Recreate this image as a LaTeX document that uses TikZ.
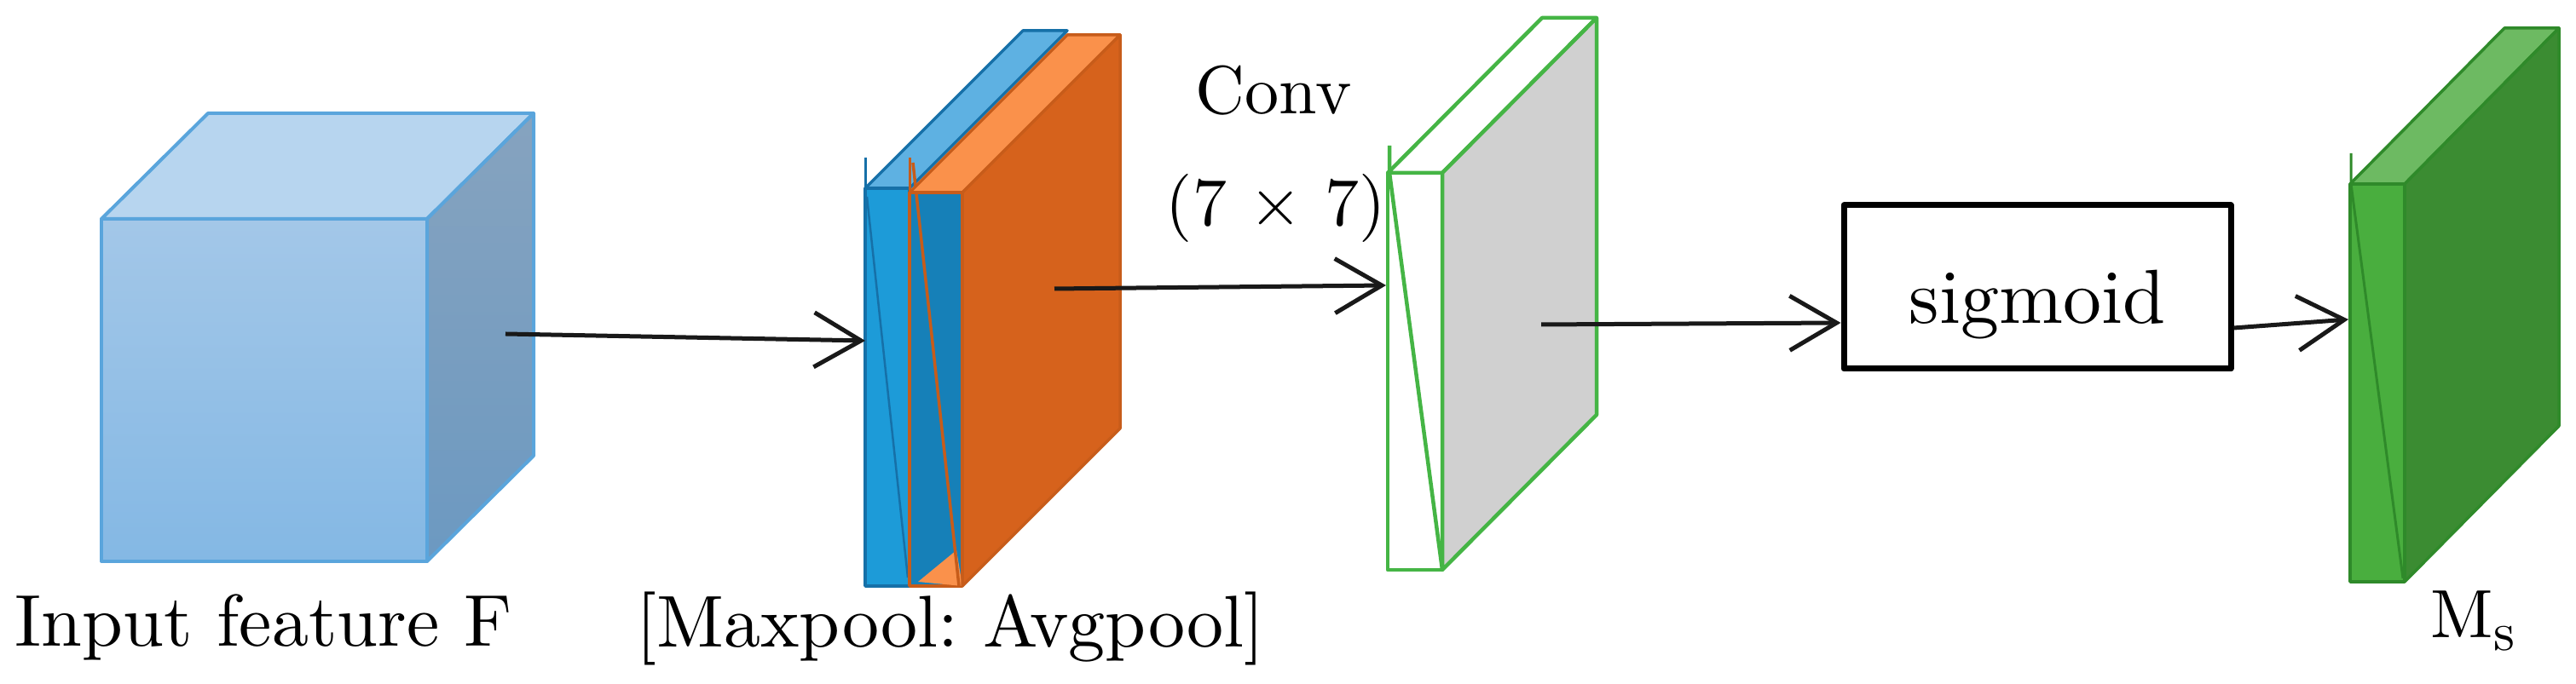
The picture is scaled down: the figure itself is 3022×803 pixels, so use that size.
\documentclass[tikz,border=0pt]{standalone}
\usepackage{fontspec}
\setmainfont{lmroman10-regular.otf}
\usetikzlibrary{arrows.meta}
\definecolor{cubeedge}{HTML}{5AA5DC}
\definecolor{cubefrontA}{HTML}{A3C7E8}
\definecolor{cubefrontB}{HTML}{84B8E4}
\definecolor{cubetop}{HTML}{B7D5EF}
\definecolor{cubesideA}{HTML}{86A3BF}
\definecolor{cubesideB}{HTML}{6C99C1}
\definecolor{maxfront}{HTML}{1D9BD8}
\definecolor{maxtop}{HTML}{5EB1E2}
\definecolor{maxedge}{HTML}{1670A8}
\definecolor{avgfront}{HTML}{1680B8}
\definecolor{avgtop}{HTML}{FA914B}
\definecolor{avgside}{HTML}{D6621C}
\definecolor{avgedge}{HTML}{C75C1A}
\definecolor{convedge}{HTML}{45B545}
\definecolor{convside}{HTML}{D0D0D0}
\definecolor{msfront}{HTML}{49AE3E}
\definecolor{mstop}{HTML}{6DBA62}
\definecolor{msside}{HTML}{3B8C32}
\definecolor{msedge}{HTML}{2F8A2A}

\begin{document}
\begin{tikzpicture}[x=0.1mm, y=-0.1mm, line join=round,
  lab/.style={anchor=base, font={\fontsize{24.5}{29}\selectfont}},
  smalllab/.style={anchor=base, font={\fontsize{22.8}{27}\selectfont}},
  arr/.style={line width=0.5mm, black!90, -{Straight Barb[length=5.5mm, width=6.4mm]}}]
\useasboundingbox (0,0) rectangle (3022,803);
\draw[cubeedge, line width=0.4mm, top color=cubefrontA, bottom color=cubefrontB] (119,257) rectangle (501,659);
\draw[cubeedge, line width=0.4mm, fill=cubetop] (119,257) -- (244,133) -- (626,133) -- (501,257) -- cycle;
\draw[cubeedge, line width=0.4mm, top color=cubesideA, bottom color=cubesideB] (501,257) -- (626,133) -- (626,535) -- (501,659) -- cycle;
\draw[maxedge, line width=0.35mm, fill=maxtop] (1015,221) -- (1200,36) -- (1252,36) -- (1067,221) -- cycle;
\draw[maxedge, line width=0.35mm, fill=maxfront] (1015,221) rectangle (1067,688);
\draw[maxedge, line width=0.25mm] (1017,231) -- (1065,678);
\draw[maxedge, line width=0.3mm] (1015,185) -- (1015,221);
\draw[avgedge, line width=0.35mm, fill=avgfront] (1067,226) rectangle (1129,688);
\fill[avgtop] (1077,683) -- (1122,646) -- (1129,688) -- cycle;
\draw[avgedge, line width=0.35mm] (1071,191) -- (1125,688);
\draw[avgedge, line width=0.3mm] (1067,185) -- (1067,226);
\draw[avgedge, line width=0.35mm, fill=avgtop] (1067,226) -- (1252,41) -- (1314,41) -- (1129,226) -- cycle;
\draw[avgedge, line width=0.35mm, fill=avgside] (1129,226) -- (1314,41) -- (1314,503) -- (1129,688) -- cycle;
\draw[convedge, line width=0.45mm, fill=white] (1628,203) rectangle (1692,669);
\draw[convedge, line width=0.45mm, fill=white] (1628,203) -- (1809,21) -- (1873,21) -- (1692,203) -- cycle;
\draw[convedge, line width=0.45mm, fill=convside] (1692,203) -- (1873,21) -- (1873,487) -- (1692,669) -- cycle;
\draw[convedge, line width=0.45mm] (1630,171) -- (1630,203) -- (1692,669);
\draw[msedge, line width=0.35mm, fill=msfront] (2757,216) rectangle (2821,683);
\draw[msedge, line width=0.35mm, fill=mstop] (2757,216) -- (2938,33) -- (3002,33) -- (2821,216) -- cycle;
\draw[msedge, line width=0.35mm, fill=msside] (2821,216) -- (3002,33) -- (3002,500) -- (2821,683) -- cycle;
\draw[msedge, line width=0.3mm] (2758,180) -- (2758,216) -- (2819,679);
\node[lab] (inlab) at (309,759) {Input feature F};
\node[lab] (poollab) at (1115,760) {[Maxpool:\ Avgpool]};
\node[smalllab] (convlab) at (1494,134) {Conv};
\node[smalllab] (kerlab) at (1497,265) {(7 × 7)};
\node[smalllab] (mslab) at (2901,749) {M{\fontsize{18}{20}\selectfont\raisebox{-1.5mm}{s}}};
\node[draw, line width=0.7mm, minimum width=45.4mm, minimum height=19.2mm, text height=10.2mm, text depth=1.75mm, font={\fontsize{25.6}{30}\selectfont}] (sig) at (2390,337) {sigmoid};
\coordinate (cubeout) at (593,392);
\coordinate (poolin) at (1015,400);
\coordinate (poolout) at (1237,339);
\coordinate (convin) at (1626,335);
\coordinate (convout) at (1808,381);
\coordinate (msin) at (2755,375);
\draw[arr] (cubeout) -- (poolin);
\draw[arr] (poolout) -- (convin);
\draw[arr] (convout) -- ([yshift=-4.2mm]sig.west);
\draw[arr] ([yshift=-4.8mm]sig.east) -- (msin);
\end{tikzpicture}
\end{document}
